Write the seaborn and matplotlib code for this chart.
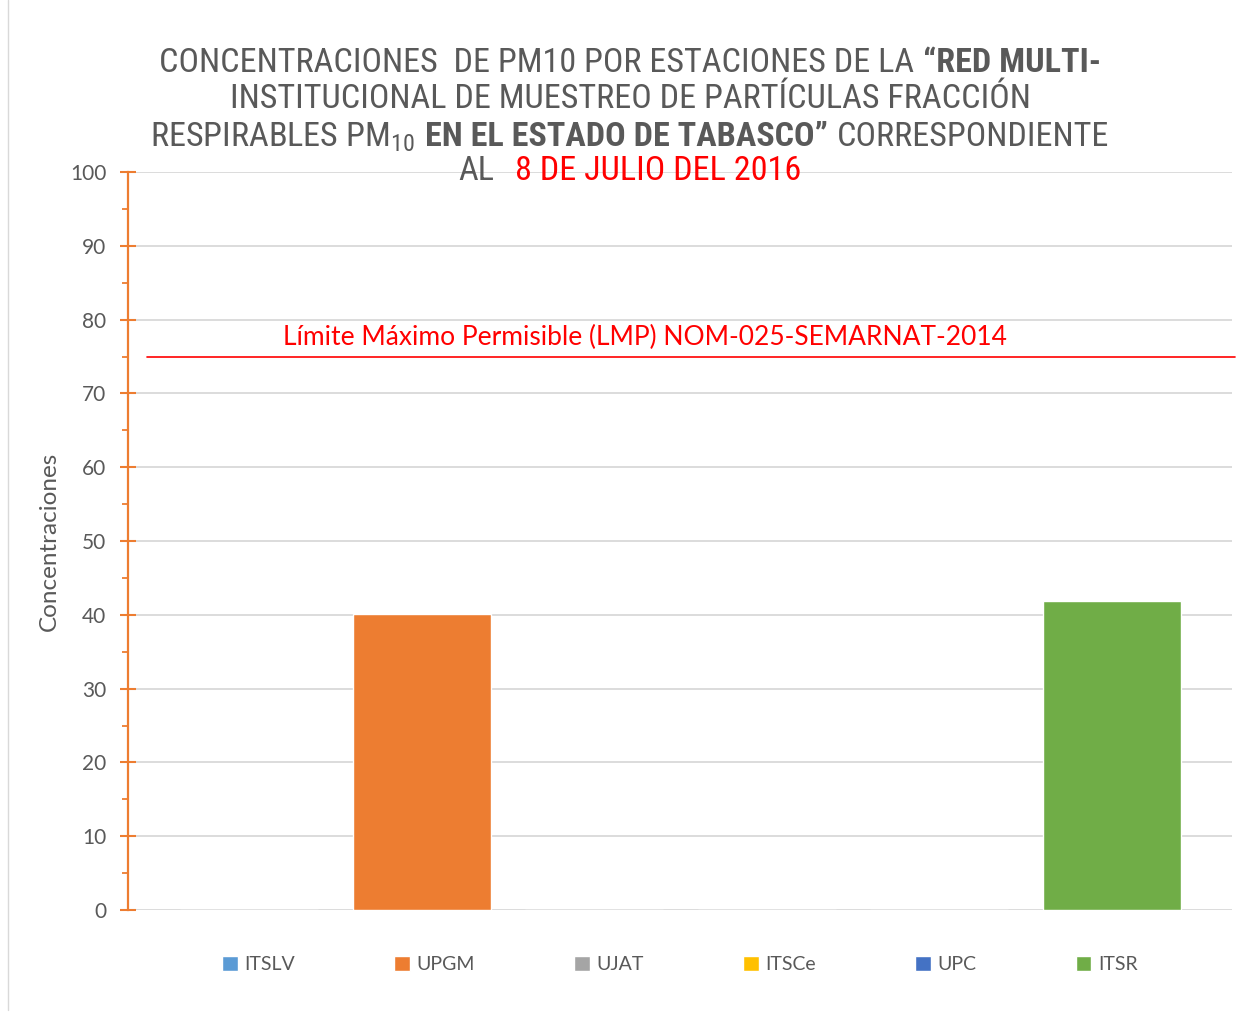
import matplotlib
matplotlib.use("Agg")
import matplotlib.pyplot as plt
import seaborn as sns
import pandas as pd
from matplotlib.offsetbox import TextArea, HPacker, AnnotationBbox
from matplotlib.lines import Line2D
from matplotlib.ticker import MultipleLocator

# ---------------- data ----------------
estaciones = ["ITSLV", "UPGM", "UJAT", "ITSCe", "UPC", "ITSR"]
concentraciones = [0.0, 40.1, 0.0, 0.0, 0.0, 41.9]
colores = ["#5B9BD5", "#ED7D31", "#A5A5A5", "#FFC000", "#4472C4", "#70AD47"]
lmp_valor = 75
lmp_texto = "Límite Máximo Permisible (LMP) NOM-025-SEMARNAT-2014"
y_label = "Concentraciones"
y_ticks = list(range(0, 101, 10))

GRAY = "#595959"
ORANGE = "#ED7D31"
RED = "#FF0000"

sns.set_theme(style="white")
plt.rcParams["font.family"] = ["Lato", "DejaVu Sans"]
plt.rcParams["mathtext.default"] = "regular"

fig = plt.figure(figsize=(12.52, 10.14), dpi=100)
ax = fig.add_axes([128 / 1252, 1 - 910 / 1014, (1232 - 128) / 1252, (910 - 172) / 1014])

df = pd.DataFrame({"estacion": estaciones, "conc": concentraciones})
sns.barplot(data=df, x="estacion", y="conc", hue="estacion", hue_order=estaciones,
            order=estaciones, palette=colores, saturation=1, width=0.8, ax=ax,
            legend=True, zorder=3)

ax.set_xlim(-0.704, 5.696)
ax.set_ylim(0, 100)
ax.set_yticks(y_ticks)
ax.yaxis.set_minor_locator(MultipleLocator(5))
ax.set_xticks([])
ax.set_xlabel("")

ax.grid(axis="y", color="#D9D9D9", linewidth=1.3, zorder=0)
ax.set_axisbelow(True)
for s in ["top", "right", "bottom"]:
    ax.spines[s].set_visible(False)
ax.spines["left"].set_color(ORANGE)
ax.spines["left"].set_linewidth(1.6)
ax.spines["left"].set_zorder(5)

ax.tick_params(axis="y", which="major", direction="inout", length=11, width=1.5,
               color=ORANGE, labelcolor=GRAY, labelsize=15, pad=10, left=True)
ax.tick_params(axis="y", which="minor", direction="out", length=4.5, width=1.3,
               color=ORANGE, left=True)

ax.set_ylabel(y_label, color=GRAY, fontsize=17.5)
ax.yaxis.set_label_coords(-0.062, 0.5)

# LMP line and label
ax.axhline(lmp_valor, xmin=0.017, xmax=1.003, color=RED, linewidth=1.2,
           clip_on=False, zorder=4)
ax.text(0.468, 0.776, lmp_texto, transform=ax.transAxes, color=RED,
        fontsize=19, ha="center", va="center")

# legend
sns.move_legend(ax, "center", bbox_to_anchor=(0.543, 0.049),
                bbox_transform=fig.transFigure, ncol=6, frameon=False, title=None,
                fontsize=14, handlelength=0.8, handleheight=0.8,
                handletextpad=0.35, columnspacing=5.1)
for t in ax.get_legend().get_texts():
    t.set_color(GRAY)

# title (mixed styles)
TF = ["Roboto Condensed", "DejaVu Sans"]
TS = 24.6


def ta(s, color=GRAY, weight="normal"):
    return TextArea(s, textprops=dict(color=color, fontsize=TS, fontweight=weight,
                                      family=TF, fontstretch="condensed"))


lines = [
    ([ta("CONCENTRACIONES  DE PM10 POR ESTACIONES DE LA"),
      ta("“RED MULTI-", weight="bold")], 7, 63),
    ([ta("INSTITUCIONAL DE MUESTREO DE PARTÍCULAS FRACCIÓN")], 7, 99),
    ([ta("RESPIRABLES PM$_{10}$"), ta("EN EL ESTADO DE TABASCO”", weight="bold"),
      ta("CORRESPONDIENTE")], 7, 137),
    ([ta("AL"), ta("8 DE JULIO DEL 2016", color=RED)], 15, 171),
]
for children, sep, ypx in lines:
    box = HPacker(children=children, align="baseline", pad=0, sep=sep)
    ab = AnnotationBbox(box, (630 / 1252, 1 - ypx / 1014), xycoords="figure fraction",
                        box_alignment=(0.5, 0.5), frameon=False, pad=0)
    fig.add_artist(ab)

# left border of the chart area
fig.add_artist(Line2D([8 / 1252, 8 / 1252], [0.004, 1.0], transform=fig.transFigure,
                      color="#D9D9D9", linewidth=1.0))

fig.savefig("out.png", dpi=100, facecolor="white")
